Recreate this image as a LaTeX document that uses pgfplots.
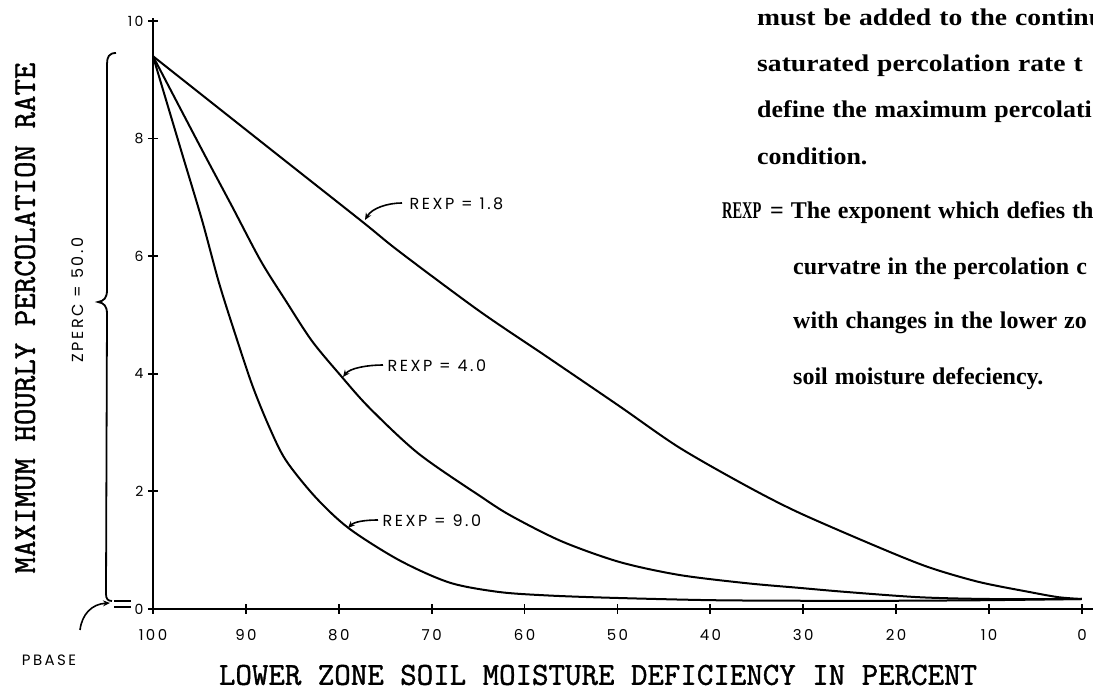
\documentclass[border=0pt]{standalone}
\usepackage{fontspec}
\usepackage{pgfplots}
\pgfplotsset{compat=1.18}
\usetikzlibrary{arrows.meta}
\setmainfont{Liberation Serif}
\newfontfamily\leroy[LetterSpace=16]{Poppins}
\newfontfamily\typew[FakeBold=1.3]{Latin Modern Mono}
\newfontfamily\dotm{Liberation Serif}
\newcommand\dotfont{\dotm\bfseries\fontsize{24}{24}\selectfont\spaceskip=7pt plus 1pt\relax}

\pgfplotstableread{
x y
100 9.40
86.8 7.75
77.5 6.59
73.5 6.08
64.9 5.07
57.7 4.30
49.8 3.45
43.4 2.75
36.2 2.10
30.5 1.64
21.9 1.05
16.5 0.71
11.1 0.46
5.7 0.29
2.5 0.20
0 0.17
}\rexpA

\pgfplotstableread{
x y
100 9.40
94.7 7.80
91.5 6.85
88.4 5.92
85.7 5.24
82.9 4.56
79.8 3.97
76.7 3.42
71.4 2.64
64.6 1.90
61.4 1.58
56.0 1.15
49.8 0.80
43.4 0.58
36.2 0.44
30.5 0.36
25.4 0.29
17.5 0.20
10 0.17
0 0.17
}\rexpB

\pgfplotstableread{
x y
100 9.40
96.9 7.76
94.7 6.60
92.9 5.55
91.1 4.65
89.3 3.80
87.5 3.10
85.7 2.53
82.5 1.90
78.9 1.37
73.5 0.83
68.1 0.45
62.8 0.29
57.5 0.23
50.6 0.19
40 0.15
30 0.14
20 0.14
10 0.15
0 0.17
}\rexpC

\begin{document}
\begin{tikzpicture}[x=1pt,y=1pt]
\useasboundingbox (0,0) rectangle (1093,692);
\clip (0,0) rectangle (1093,692);
\begin{axis}[
  at={(617.5pt,378.5pt)}, anchor=center,
  scale only axis, width=929pt, height=591pt,
  x dir=reverse,
  xmin=0, xmax=100, ymin=0, ymax=10.05,
  axis x line=bottom, axis y line=left,
  axis line style={-, line width=2.4pt},
  xtick={0,10,...,100}, ytick={0,2,...,10},
  tick align=center,
  major tick length=10pt,
  every tick/.style={black, line width=1.8pt},
  /pgf/number format/assume math mode=true,
  xticklabel style={font=\leroy\fontsize{15}{15}\selectfont, yshift=-12pt},
  yticklabel style={font=\leroy\fontsize{14}{14}\selectfont, xshift=-1pt},
]
\addplot[black, line width=2pt, smooth, tension=0.5] table {\rexpA};
\addplot[black, line width=2pt, smooth, tension=0.5] table {\rexpB};
\addplot[black, line width=2pt, smooth, tension=0.5] table {\rexpC};
\end{axis}
% extension of x axis line
\draw[line width=2.4pt] (1082,83) -- (1093,83);

% curve labels
\draw[line width=1.6pt, -{Stealth[length=7pt,width=6pt]}] (402,489) .. controls (388,489) and (372,484) .. (365,472);
\node[anchor=west, font=\leroy\fontsize{16}{16}\selectfont] at (406,488) {REXP = 1.8};
\draw[line width=1.6pt, -{Stealth[length=7pt,width=6pt]}] (383,327) .. controls (368,327) and (350,324) .. (343,315);
\node[anchor=west, font=\leroy\fontsize{16}{16}\selectfont] at (384,326) {REXP = 4.0};
\draw[line width=1.6pt, -{Stealth[length=7pt,width=6pt]}] (378,172) .. controls (364,172) and (354,170) .. (348,164);
\node[anchor=west, font=\leroy\fontsize{16}{16}\selectfont] at (379,171) {REXP = 9.0};

% ZPERC brace
\draw[line width=1.8pt] (116,639) .. controls (109,639) and (107,635) .. (107,628)
  -- (107,402) .. controls (107,394) and (104,391) .. (98,390)
  .. controls (104,389) and (107,386) .. (107,378)
  -- (106,98) .. controls (106,93) and (108,91) .. (112,91);
\node[rotate=90, font=\leroy\fontsize{16}{16}\selectfont] at (78,392) {ZPERC = 50.0};

% PBASE marks
\draw[line width=2pt] (114,91) -- (131,91);
\draw[line width=2pt] (114,85) -- (131,85);
\draw[line width=1.6pt, -{Stealth[length=7pt,width=6pt]}] (80,62) .. controls (82,78) and (92,88) .. (110,89);
\node[font=\leroy\fontsize{15}{15}\selectfont] at (49,32) {PBASE};

% axis titles
\node[font=\typew\fontsize{32}{32}\selectfont, inner sep=1pt] at (598,17) {LOWER ZONE SOIL MOISTURE DEFICIENCY IN PERCENT};
\node[rotate=90, font=\typew\fontsize{32}{32}\selectfont] at (25,374) {MAXIMUM HOURLY PERCOLATION RATE};

% text block on the right (cut by the page edge as in the scan)
\begin{scope}[every node/.style={anchor=base west, font=\dotfont, inner sep=0pt}]
\node[xscale=1.15] at (757,666) {must be added to the continu};
\node[xscale=1.15] at (757,620) {saturated percolation rate t};
\node[xscale=1.08] at (757,574) {define the maximum percolati};
\node[xscale=1.08] at (757,527) {condition.};
\node[xscale=0.6] at (722,473) {REXP};
\node at (770,473) {= The exponent which defies th};
\node at (793,417) {curvatre in the percolation c};
\node at (793,363) {with changes in the lower zo};
\node at (793,307) {soil moisture defeciency.};
\end{scope}
\end{tikzpicture}
\end{document}
